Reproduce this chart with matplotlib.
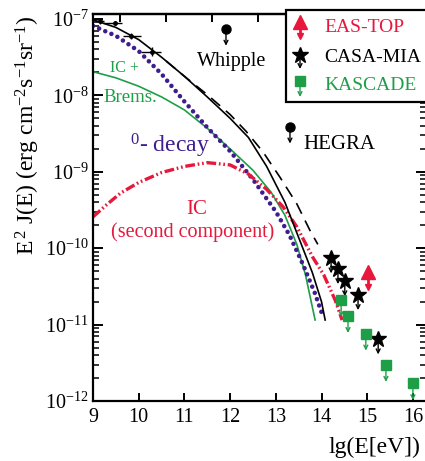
import numpy as np
import matplotlib
matplotlib.use("Agg")
import matplotlib.pyplot as plt
from matplotlib.patches import Rectangle
from matplotlib.ticker import LogLocator, NullFormatter

plt.rcParams['font.family'] = ['Liberation Serif', 'DejaVu Serif']
plt.rcParams['mathtext.fontset'] = 'custom'
plt.rcParams['mathtext.rm'] = 'Liberation Serif'
plt.rcParams['mathtext.it'] = 'Liberation Serif:italic'
plt.rcParams['mathtext.bf'] = 'Liberation Serif:bold'
plt.rcParams['lines.scale_dashes'] = False

GREEN = '#1f9e48'
RED = '#e8173c'
PURPLE = '#3f1d8f'

# model curves, lg(E[eV]) vs lg(E^2 J)
pi0_lgE = [9.0, 9.5, 10.0, 10.5, 11.0, 11.5, 12.0, 12.5, 13.0, 13.3, 13.6, 13.85, 14.03]
pi0_lgF = [-7.09, -7.22, -7.42, -7.72, -8.08, -8.42, -8.73, -9.10, -9.52, -9.83, -10.22, -10.58, -10.89]

icb_lgE = [9.0, 9.5, 10.0, 10.5, 11.0, 11.5, 12.0, 12.5, 12.9, 13.2, 13.46, 13.65, 13.86]
icb_lgF = [-7.69, -7.77, -7.88, -8.02, -8.19, -8.43, -8.70, -8.98, -9.27, -9.57, -9.95, -10.35, -10.94]

ic2_lgE = [9.0, 9.3, 9.6, 10.0, 10.5, 11.0, 11.5, 12.0, 12.4, 12.8, 13.16, 13.46, 13.81, 14.05, 14.3, 14.45]
ic2_lgF = [-9.59, -9.43, -9.28, -9.14, -9.01, -8.93, -8.88, -8.91, -9.03, -9.23, -9.46, -9.72, -10.12, -10.35, -10.68, -10.94]

sum_lgE = [9.0, 9.5, 10.0, 10.5, 11.0, 11.5, 12.0, 12.4, 12.8, 13.2, 13.5, 13.8, 14.0, 14.08]
sum_lgF = [-7.01, -7.11, -7.27, -7.50, -7.75, -8.02, -8.30, -8.55, -8.93, -9.40, -9.86, -10.32, -10.70, -10.94]

tot_lgE = [10.6, 11.0, 11.5, 12.0, 12.35, 12.72, 13.09, 13.46, 13.75, 13.92]
tot_lgF = [-7.55, -7.75, -7.99, -8.25, -8.47, -8.74, -9.07, -9.42, -9.77, -9.95]

# low-energy measurements with error bars
low_lgE = [9.15, 9.48, 9.83, 10.29]
low_lgF = [-7.03, -7.05, -7.22, -7.43]
low_xlo = [9.05, 9.22, 9.66, 10.05]
low_xhi = [9.25, 9.63, 10.05, 10.49]
low_dlg = [0.03, 0.03, 0.04, 0.06]

# upper limits
whipple_lgE, whipple_lgF = 11.91, -7.13
hegra_lgE, hegra_lgF = 13.31, -8.41
casa_lgE = [14.21, 14.36, 14.51, 14.80, 15.24]
casa_lgF = [-10.13, -10.27, -10.43, -10.61, -11.19]
kascade_lgE = [14.43, 14.58, 14.97, 15.41, 16.0]
kascade_lgF = [-10.68, -10.89, -11.12, -11.53, -11.77]
eas_lgE, eas_lgF = 15.02, -10.31


def F(lg):
    return 10.0 ** np.asarray(lg)


def down_arrow(ax, x, y0, y1, color, lw=1.0):
    ax.annotate('', xy=(x, y1), xytext=(x, y0),
                arrowprops=dict(arrowstyle='->', color=color, lw=lw,
                                shrinkA=0, shrinkB=0, mutation_scale=7),
                zorder=4)


fig = plt.figure(figsize=(4.25, 4.61), dpi=100)
ax = fig.add_axes([93 / 425, 1 - 401 / 461, 333 / 425, 387 / 461])
ax.set_yscale('log')
ax.set_xlim(9, 9 + 333 / 45.7)
ax.set_ylim(1e-12, 10 ** (-7 + 5 / 76.4))

ax.plot(icb_lgE, F(icb_lgF), color=GREEN, lw=1.2, zorder=2)
ax.plot(pi0_lgE, F(pi0_lgF), color=PURPLE, lw=3.3,
        linestyle=(0, (0.01, 4.8)), dash_capstyle='round', zorder=2)
ax.plot(ic2_lgE, F(ic2_lgF), color=RED, lw=2.4,
        linestyle=(0, (7, 2.0, 1.2, 2.0, 1.2, 2.0)), zorder=2)
ax.plot(sum_lgE, F(sum_lgF), color='black', lw=1.2, zorder=3)
ax.plot(tot_lgE, F(tot_lgF), color='black', lw=1.2,
        linestyle=(0, (8.5, 5.5)), zorder=3)

low_y = F(low_lgF)
ax.errorbar(low_lgE, low_y,
            xerr=[np.array(low_lgE) - np.array(low_xlo), np.array(low_xhi) - np.array(low_lgE)],
            yerr=[low_y - F(np.array(low_lgF) - low_dlg), F(np.array(low_lgF) + low_dlg) - low_y],
            fmt='o', ms=2.5, color='black', elinewidth=1.0, capsize=0, zorder=4)

# Whipple and HEGRA upper limits
for x, lg in [(whipple_lgE, whipple_lgF), (hegra_lgE, hegra_lgF)]:
    down_arrow(ax, x, F(lg), F(lg - 0.22), 'black')
    ax.plot(x, F(lg), 'o', color='black', ms=6.5, zorder=5)

for x, lg in zip(casa_lgE, casa_lgF):
    down_arrow(ax, x, F(lg), F(lg - 0.2), 'black')
    ax.plot(x, F(lg), '*', color='black', ms=12, zorder=5)

for x, lg in zip(kascade_lgE, kascade_lgF):
    down_arrow(ax, x, F(lg), F(lg - 0.22), GREEN)
    ax.plot(x, F(lg), 's', color=GREEN, ms=7, zorder=5)

ax.plot([eas_lgE, eas_lgE], [F(eas_lgF), F(eas_lgF - 0.2)], color=RED, lw=2, zorder=5)
ax.plot(eas_lgE, F(eas_lgF), '^', color=RED, ms=10, zorder=5)
ax.plot(eas_lgE, F(eas_lgF - 0.2), 'v', color=RED, ms=5, zorder=5)

# labels in the plot
ax.text(11.28, F(-7.55), 'Whipple', fontsize=14.5, va='center', ha='left')
ax.text(13.60, F(-8.64), 'HEGRA', fontsize=15, va='center', ha='left')
ax.text(9.37, F(-7.64), 'IC +', fontsize=11.5, color=GREEN, va='center', ha='left')
ax.text(9.22, F(-8.03), 'Brems.', fontsize=13.5, color=GREEN, va='center', ha='left')
ax.text(9.80, F(-8.66), r'$^{0}$- decay', fontsize=17, color=PURPLE, va='center', ha='left')
ax.text(11.27, F(-9.50), 'IC', fontsize=15, color=RED, va='center', ha='center')
ax.text(11.17, F(-9.79), '(second component)', fontsize=14.5, color=RED, va='center', ha='center')

# axes styling
for s in ax.spines.values():
    s.set_linewidth(1.6)
ax.set_xticks(range(9, 17))
ax.tick_params(axis='x', which='major', direction='in', length=6, width=1.4,
               labelsize=14.5, pad=5, top=False)
ax.yaxis.set_major_locator(LogLocator(base=10, numticks=12))
ax.yaxis.set_minor_locator(LogLocator(base=10, subs=np.arange(2, 10), numticks=12))
ax.yaxis.set_minor_formatter(NullFormatter())
ax.tick_params(axis='y', which='major', direction='in', length=7.5, width=1.4,
               labelsize=14.5, pad=3, right=True)
ax.tick_params(axis='y', which='minor', direction='in', length=4.5, width=1.1, right=True)

top = ax.secondary_xaxis('top')
top.set_xticks(np.arange(9.6, 16.3, 1.0))
top.tick_params(direction='in', length=6, width=1.4, labeltop=False)
top.spines['top'].set_linewidth(1.6)

fig.text(28 / 425, 1 - 135 / 461,
         r'E$^{\,2}$ J(E) (erg cm$^{-2}$s$^{-1}$sr$^{-1}$)',
         rotation=90, fontsize=17, ha='center', va='center')
fig.text(328 / 425, 1 - 447 / 461, 'lg(E[eV])', fontsize=17, ha='left', va='center')

# legend drawn on an overlay in pixel coordinates
ov = fig.add_axes([0, 0, 1, 1], zorder=10)
ov.set_xlim(0, 425)
ov.set_ylim(461, 0)
ov.axis('off')
ov.patch.set_alpha(0)
ov.add_patch(Rectangle((286, 10), 150, 92, facecolor='white', edgecolor='black', lw=1.6))

ov.plot([300, 300], [22, 36], color=RED, lw=2)
ov.plot(300, 22, '^', color=RED, ms=10)
ov.plot(300, 36, 'v', color=RED, ms=5)
ov.annotate('', xy=(300, 69), xytext=(300, 55),
            arrowprops=dict(arrowstyle='->', color='black', lw=1.0, shrinkA=0, shrinkB=0, mutation_scale=7))
ov.plot(300, 55, '*', color='black', ms=12)
ov.annotate('', xy=(300, 97), xytext=(300, 81),
            arrowprops=dict(arrowstyle='->', color=GREEN, lw=1.0, shrinkA=0, shrinkB=0, mutation_scale=7))
ov.plot(300, 81, 's', color=GREEN, ms=7)

ov.text(324, 27, 'EAS-TOP', color=RED, fontsize=14, va='center', ha='left')
ov.text(324, 57, 'CASA-MIA', color='black', fontsize=14, va='center', ha='left')
ov.text(324, 86, 'KASCADE', color=GREEN, fontsize=14, va='center', ha='left')

fig.savefig('out.png', dpi=100)
